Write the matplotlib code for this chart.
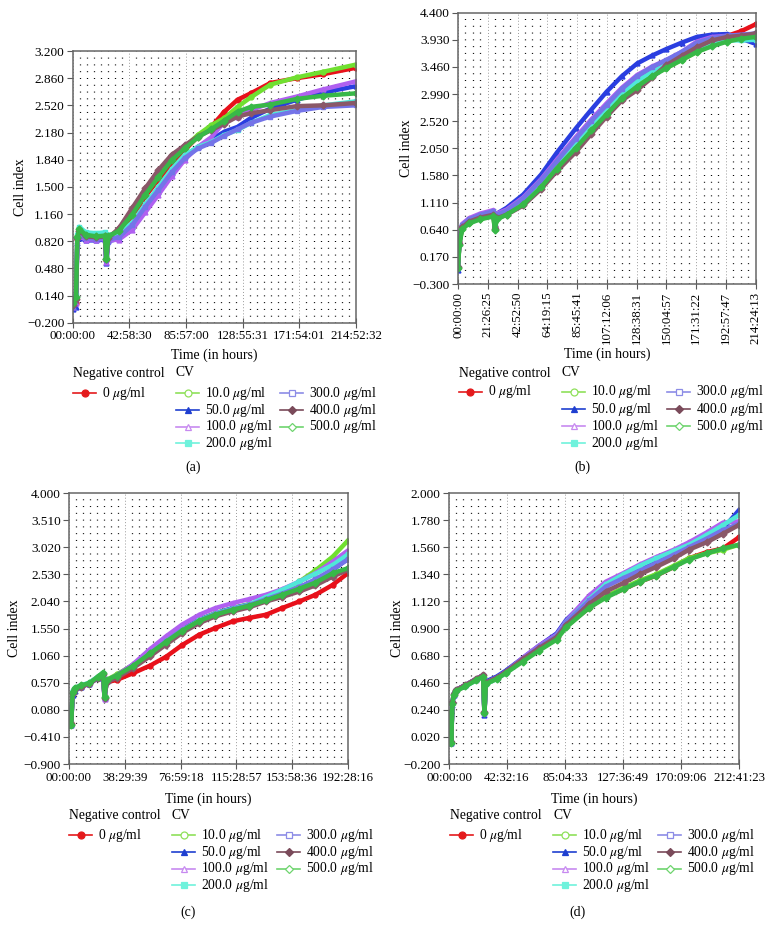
import matplotlib
matplotlib.use('Agg')
import matplotlib.pyplot as plt
from matplotlib.lines import Line2D
from matplotlib.ticker import MultipleLocator

plt.rcParams['font.family'] = ['Liberation Serif', 'DejaVu Serif']
plt.rcParams['mathtext.fontset'] = 'stix'
plt.rcParams['lines.scale_dashes'] = False
plt.rcParams['font.size'] = 9

# series legend info
doses = ['0', '10.0', '50.0', '100.0', '200.0', '300.0', '400.0', '500.0']
line_colors = ['#e8101a', '#70e030', '#2a3ee0', '#b060f0', '#50e8d8', '#7474e8', '#8a5868', '#38b848']
leg_colors = ['#e41a1c', '#8fe05a', '#1f3fd0', '#c78af0', '#6ff2dc', '#8c8ce6', '#7a4a5a', '#6ed46e']
markers = ['o', 'o', '^', '^', 's', 's', 'D', 'D']
filled = [True, False, True, False, True, False, True, False]

# ---- panel (a)
a_xticks = ['00:00:00', '42:58:30', '85:57:00', '128:55:31', '171:54:01', '214:52:32']
a_yticks = [-0.2, 0.14, 0.48, 0.82, 1.16, 1.5, 1.84, 2.18, 2.52, 2.86, 3.2]
a_t = [0, 2.5, 3.5, 5, 10, 18, 24.5, 25.5, 27, 35, 45, 55, 65, 75, 85, 95, 105, 115, 125, 135, 150, 170, 190, 214.8]
a_0 = [0.0, 0.05, 0.85, 0.95, 0.88, 0.86, 0.87, 0.58, 0.86, 0.90, 1.12, 1.38, 1.59, 1.79, 1.96, 2.13, 2.25, 2.44, 2.59, 2.67, 2.80, 2.86, 2.91, 2.99]
a_10 = [0.02, 0.1, 0.88, 0.98, 0.92, 0.90, 0.91, 0.62, 0.89, 0.94, 1.17, 1.42, 1.65, 1.86, 2.00, 2.15, 2.27, 2.36, 2.50, 2.62, 2.78, 2.87, 2.94, 3.03]
a_50 = [-0.03, 0.0, 0.80, 0.86, 0.83, 0.83, 0.84, 0.55, 0.82, 0.85, 1.00, 1.23, 1.44, 1.67, 1.88, 2.00, 2.09, 2.19, 2.25, 2.36, 2.48, 2.59, 2.68, 2.76]
a_100 = [0.0, 0.05, 0.82, 0.88, 0.84, 0.84, 0.85, 0.56, 0.83, 0.84, 0.96, 1.18, 1.40, 1.63, 1.84, 2.00, 2.12, 2.31, 2.38, 2.46, 2.55, 2.63, 2.72, 2.82]
a_200 = [0.1, 0.15, 0.90, 1.00, 0.93, 0.92, 0.93, 0.62, 0.90, 0.92, 1.05, 1.28, 1.50, 1.72, 1.90, 2.00, 2.06, 2.15, 2.21, 2.30, 2.40, 2.46, 2.52, 2.57]
a_300 = [0.0, 0.1, 0.85, 0.90, 0.86, 0.85, 0.86, 0.58, 0.84, 0.87, 1.02, 1.25, 1.46, 1.68, 1.86, 1.98, 2.05, 2.14, 2.22, 2.30, 2.38, 2.45, 2.50, 2.52]
a_400 = [0.02, 0.1, 0.86, 0.95, 0.88, 0.87, 0.88, 0.60, 0.86, 0.98, 1.23, 1.48, 1.71, 1.90, 2.02, 2.13, 2.21, 2.29, 2.38, 2.42, 2.46, 2.51, 2.52, 2.55]
a_500 = [0.05, 0.12, 0.87, 0.97, 0.90, 0.88, 0.89, 0.60, 0.88, 0.95, 1.15, 1.40, 1.62, 1.83, 1.98, 2.12, 2.22, 2.33, 2.44, 2.50, 2.53, 2.60, 2.64, 2.67]

# ---- panel (b)
b_xticks = ['00:00:00', '21:26:25', '42:52:50', '64:19:15', '85:45:41', '107:12:06',
            '128:38:31', '150:04:57', '171:31:22', '192:57:47', '214:24:13']
b_yticks = [-0.3, 0.17, 0.64, 1.11, 1.58, 2.05, 2.52, 2.99, 3.46, 3.93, 4.4]
b_t = [0, 1, 3, 8, 16, 25.5, 26.5, 28, 35, 47, 60, 71, 85, 96, 107, 118, 129, 140, 150, 161, 172, 183, 194, 204, 214.4]
b_0 = [-0.02, 0.42, 0.70, 0.80, 0.87, 0.94, 0.68, 0.88, 0.95, 1.12, 1.42, 1.72, 2.10, 2.42, 2.72, 3.00, 3.22, 3.40, 3.54, 3.68, 3.80, 3.90, 4.00, 4.08, 4.20]
b_10 = [0.0, 0.40, 0.66, 0.76, 0.83, 0.88, 0.65, 0.84, 0.92, 1.10, 1.40, 1.73, 2.08, 2.38, 2.66, 2.93, 3.15, 3.32, 3.44, 3.58, 3.72, 3.84, 3.92, 3.98, 4.04]
b_50 = [-0.05, 0.45, 0.72, 0.82, 0.89, 0.95, 0.70, 0.92, 1.02, 1.25, 1.60, 1.97, 2.40, 2.72, 3.03, 3.30, 3.52, 3.66, 3.77, 3.88, 3.98, 4.02, 4.03, 3.95, 3.86]
b_100 = [0.05, 0.45, 0.74, 0.84, 0.92, 0.98, 0.70, 0.92, 0.99, 1.20, 1.52, 1.85, 2.25, 2.55, 2.83, 3.10, 3.32, 3.47, 3.58, 3.72, 3.90, 3.98, 4.00, 4.00, 4.02]
b_200 = [-0.02, 0.42, 0.70, 0.80, 0.87, 0.93, 0.68, 0.88, 0.95, 1.14, 1.45, 1.76, 2.12, 2.44, 2.74, 3.00, 3.22, 3.38, 3.50, 3.64, 3.78, 3.88, 3.92, 3.92, 3.93]
b_300 = [0.0, 0.44, 0.72, 0.82, 0.90, 0.96, 0.69, 0.90, 0.97, 1.18, 1.50, 1.82, 2.22, 2.52, 2.80, 3.08, 3.30, 3.46, 3.58, 3.72, 3.88, 3.96, 4.00, 4.02, 4.04]
b_400 = [0.0, 0.40, 0.68, 0.78, 0.85, 0.90, 0.66, 0.84, 0.90, 1.06, 1.35, 1.65, 1.99, 2.30, 2.60, 2.88, 3.06, 3.28, 3.49, 3.65, 3.80, 3.92, 3.98, 4.00, 4.04]
b_500 = [-0.03, 0.38, 0.65, 0.75, 0.82, 0.87, 0.64, 0.82, 0.90, 1.08, 1.38, 1.70, 2.06, 2.36, 2.64, 2.92, 3.12, 3.30, 3.44, 3.58, 3.72, 3.82, 3.90, 3.95, 3.98]

# ---- panel (c)
c_xticks = ['00:00:00', '38:29:39', '76:59:18', '115:28:57', '153:58:36', '192:28:16']
c_yticks = [-0.9, -0.41, 0.08, 0.57, 1.06, 1.55, 2.04, 2.53, 3.02, 3.51, 4.0]
c_t = [0, 1.5, 2.5, 4, 8, 14, 20, 23.5, 24.5, 26, 33, 44, 56, 67, 78, 90, 101, 113, 124, 136, 147, 159, 170, 182, 192.4]
c_0 = [-0.15, -0.15, 0.38, 0.45, 0.50, 0.55, 0.66, 0.73, 0.30, 0.58, 0.62, 0.74, 0.88, 1.04, 1.25, 1.44, 1.56, 1.68, 1.74, 1.80, 1.92, 2.04, 2.16, 2.34, 2.55]
c_10 = [-0.18, -0.2, 0.40, 0.47, 0.52, 0.56, 0.68, 0.75, 0.33, 0.62, 0.72, 0.89, 1.12, 1.34, 1.54, 1.71, 1.83, 1.92, 1.99, 2.07, 2.20, 2.40, 2.60, 2.85, 3.14]
c_50 = [-0.2, -0.2, 0.35, 0.42, 0.50, 0.55, 0.66, 0.73, 0.30, 0.60, 0.70, 0.89, 1.12, 1.34, 1.53, 1.71, 1.82, 1.92, 1.98, 2.07, 2.17, 2.28, 2.42, 2.61, 2.81]
c_100 = [-0.15, -0.18, 0.40, 0.47, 0.52, 0.56, 0.68, 0.74, 0.28, 0.60, 0.70, 0.90, 1.18, 1.41, 1.62, 1.80, 1.92, 2.01, 2.08, 2.16, 2.26, 2.40, 2.55, 2.76, 2.96]
c_200 = [-0.15, -0.15, 0.42, 0.48, 0.52, 0.57, 0.68, 0.75, 0.32, 0.60, 0.68, 0.86, 1.10, 1.32, 1.52, 1.70, 1.82, 1.91, 1.98, 2.12, 2.25, 2.40, 2.54, 2.70, 2.89]
c_300 = [-0.18, -0.2, 0.38, 0.45, 0.50, 0.55, 0.66, 0.73, 0.30, 0.60, 0.68, 0.86, 1.10, 1.32, 1.52, 1.69, 1.81, 1.90, 1.97, 2.08, 2.18, 2.30, 2.44, 2.62, 2.80]
c_400 = [-0.15, -0.18, 0.38, 0.45, 0.50, 0.55, 0.66, 0.72, 0.30, 0.58, 0.66, 0.83, 1.05, 1.26, 1.47, 1.65, 1.77, 1.86, 1.93, 2.04, 2.12, 2.22, 2.33, 2.49, 2.61]
c_500 = [-0.2, -0.2, 0.40, 0.47, 0.52, 0.56, 0.68, 0.75, 0.32, 0.62, 0.70, 0.87, 1.10, 1.31, 1.51, 1.69, 1.80, 1.89, 1.96, 2.06, 2.16, 2.27, 2.38, 2.55, 2.64]

# ---- panel (d)
d_xticks = ['00:00:00', '42:32:16', '85:04:33', '127:36:49', '170:09:06', '212:41:23']
d_yticks = [-0.2, 0.02, 0.24, 0.46, 0.68, 0.9, 1.12, 1.34, 1.56, 1.78, 2.0]
d_t = [0, 1, 1.6, 2.5, 3.5, 5, 12, 20, 25, 26, 27, 35, 42, 54, 66, 79, 86, 103, 115, 128, 140, 152, 165, 176, 189, 201, 212.6]
d_0 = [0.0, 0.21, -0.02, 0.30, 0.37, 0.40, 0.44, 0.49, 0.52, 0.21, 0.46, 0.50, 0.55, 0.65, 0.74, 0.83, 0.92, 1.07, 1.16, 1.22, 1.28, 1.33, 1.40, 1.47, 1.52, 1.55, 1.64]
d_10 = [-0.02, 0.22, -0.03, 0.30, 0.37, 0.40, 0.44, 0.49, 0.52, 0.21, 0.46, 0.50, 0.55, 0.64, 0.73, 0.82, 0.92, 1.08, 1.16, 1.23, 1.29, 1.34, 1.41, 1.47, 1.51, 1.54, 1.58]
d_50 = [0.0, 0.20, -0.03, 0.28, 0.36, 0.40, 0.44, 0.49, 0.52, 0.20, 0.47, 0.51, 0.56, 0.66, 0.76, 0.86, 0.97, 1.15, 1.26, 1.34, 1.40, 1.46, 1.52, 1.58, 1.63, 1.71, 1.86]
d_100 = [0.0, 0.22, 0.0, 0.30, 0.37, 0.40, 0.44, 0.49, 0.52, 0.21, 0.46, 0.50, 0.55, 0.66, 0.76, 0.85, 0.96, 1.17, 1.28, 1.35, 1.42, 1.48, 1.54, 1.60, 1.68, 1.76, 1.77]
d_200 = [0.0, 0.21, -0.02, 0.30, 0.37, 0.40, 0.43, 0.48, 0.51, 0.21, 0.45, 0.49, 0.54, 0.64, 0.74, 0.84, 0.95, 1.14, 1.26, 1.34, 1.41, 1.47, 1.53, 1.58, 1.66, 1.74, 1.82]
d_300 = [0.0, 0.21, -0.02, 0.30, 0.37, 0.40, 0.44, 0.49, 0.52, 0.22, 0.46, 0.50, 0.55, 0.65, 0.75, 0.84, 0.95, 1.13, 1.24, 1.31, 1.37, 1.43, 1.50, 1.56, 1.63, 1.70, 1.75]
d_400 = [0.0, 0.21, -0.02, 0.30, 0.37, 0.40, 0.44, 0.49, 0.52, 0.22, 0.46, 0.50, 0.55, 0.65, 0.74, 0.83, 0.93, 1.10, 1.20, 1.27, 1.34, 1.40, 1.47, 1.54, 1.60, 1.67, 1.74]
d_500 = [-0.02, 0.21, -0.03, 0.29, 0.36, 0.39, 0.43, 0.48, 0.51, 0.21, 0.45, 0.49, 0.54, 0.63, 0.72, 0.81, 0.91, 1.07, 1.15, 1.22, 1.28, 1.33, 1.40, 1.46, 1.51, 1.55, 1.58]

W, H = 776, 938
fig = plt.figure(figsize=(W / 100, H / 100), dpi=100)


def fx(x):
    return x / W


def fy(y):
    return 1 - y / H


def hours(s):
    h, m, sec = s.split(':')
    return int(h) + int(m) / 60 + int(sec) / 3600


def panel(box, t, series, xticks, yticks, nminor, rot, ylab_x, xlab_y):
    l, top, r, b = box
    ax = fig.add_axes([fx(l), fy(b), (r - l) / W, (b - top) / H])
    ax.set_axisbelow(True)
    for vals, c, m in zip(series, line_colors, markers):
        ax.plot(t, vals, color=c, lw=3.2, marker=m, ms=3.5, mec=c, mfc=c)
    xpos = [hours(s) for s in xticks]
    ax.set_xlim(0, xpos[-1])
    ax.set_ylim(yticks[0], yticks[-1])
    ax.set_xticks(xpos)
    ax.set_xticklabels(xticks, rotation=rot)
    ax.set_yticks(yticks)
    ax.set_yticklabels([f'{v:.3f}'.replace('-', '\u2212') for v in yticks])
    ax.xaxis.set_minor_locator(MultipleLocator(xpos[1] / nminor))
    # dotted lattice: one dot per quarter of a y interval
    sp = (b - top) / 40 * 0.72
    ax.grid(which='minor', axis='x', color='k', lw=0.9, linestyle=(0, (0.7, sp - 0.7)))
    ax.grid(which='major', axis='x', color='0.6', lw=0.7, linestyle=(0, (0.7, 1.5)))
    ax.tick_params(which='minor', length=0)
    ax.tick_params(axis='x', direction='inout', length=7, color='0.35', labelsize=9.3, pad=2)
    ax.tick_params(axis='y', direction='out', length=4, color='0.35', labelsize=9.5, pad=2)
    for sp_ in ax.spines.values():
        sp_.set_color('0.4')
        sp_.set_linewidth(1.1)
    ax.set_ylabel('Cell index', fontsize=10)
    ax.yaxis.set_label_coords((ylab_x - l) / (r - l), 0.5)
    ax.yaxis.label.set_verticalalignment('center')
    ax.set_xlabel('Time (in hours)', fontsize=10)
    ax.xaxis.set_label_coords(0.5, (b - xlab_y) / (b - top))
    ax.xaxis.label.set_verticalalignment('center')
    return ax


def legend(x0, x1, x2, yh, yrows):
    fig.text(fx(x0), fy(yh), 'Negative control', ha='left', va='center', fontsize=9.8)
    fig.text(fx(x1), fy(yh), 'CV', ha='left', va='center', fontsize=9.8)
    slots = [(x0, 0), (x1, 0), (x1, 1), (x1, 2), (x1, 3), (x2, 0), (x2, 1), (x2, 2)]
    for i, (x, row) in enumerate(slots):
        y = yrows[row]
        c = leg_colors[i]
        fig.add_artist(Line2D([fx(x), fx(x + 11.5), fx(x + 23)], [fy(y)] * 3,
                              transform=fig.transFigure, color=c, lw=1.2,
                              marker=markers[i], markevery=[1], ms=5 if markers[i] != 'D' else 4,
                              mec=c, mfc=c if filled[i] else 'white', mew=0.9))
        fig.text(fx(x + 29), fy(y), f'{doses[i]} $\\mu$g/ml', ha='left', va='center', fontsize=9.8)


panel((72.7, 51, 356, 322.7), a_t, [a_0, a_10, a_50, a_100, a_200, a_300, a_400, a_500],
      a_xticks, a_yticks, 8, 0, 20, 355)
panel((458, 12.7, 755.7, 284), b_t, [b_0, b_10, b_50, b_100, b_200, b_300, b_400, b_500],
      b_xticks, b_yticks, 4, 90, 407, 354)
panel((69, 493, 348, 764), c_t, [c_0, c_10, c_50, c_100, c_200, c_300, c_400, c_500],
      c_xticks, c_yticks, 8, 0, 15, 799)
panel((449, 493, 739, 764), d_t, [d_0, d_10, d_50, d_100, d_200, d_300, d_400, d_500],
      d_xticks, d_yticks, 8, 0, 397, 799)

legend(73, 176, 280, 373, [393, 410, 426.5, 443])
legend(459, 562, 667, 373, [392, 409, 426, 443])
legend(69, 172, 277, 815, [835, 852, 868.5, 885])
legend(450, 553, 658, 815, [835, 852, 868.5, 885])

for lab, x, y in [('(a)', 193, 467), ('(b)', 582, 467), ('(c)', 188, 912), ('(d)', 578, 912)]:
    fig.text(fx(x), fy(y), lab, ha='center', va='center', fontsize=10)

fig.savefig('out.png', dpi=100)
